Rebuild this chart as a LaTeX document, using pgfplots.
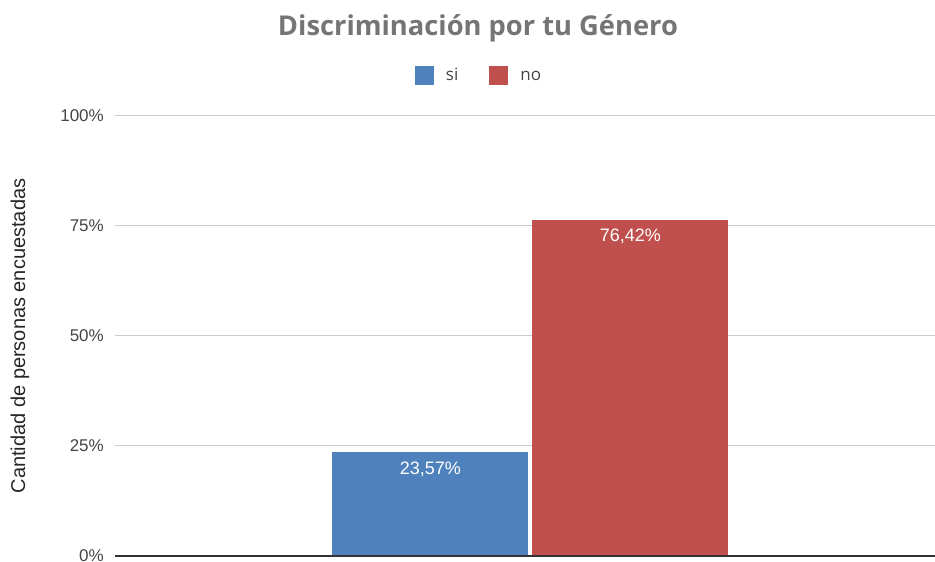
\documentclass[border=0pt]{standalone}
\usepackage{pgfplots}
\pgfplotsset{compat=1.18}
\usepackage{fontspec}
\setmainfont{Liberation Sans}
\newfontfamily\titlefont{Open Sans}
\definecolor{siblue}{HTML}{4F81BD}
\definecolor{nored}{HTML}{C0504D}
\definecolor{titlegray}{HTML}{757575}
\definecolor{gridgray}{HTML}{CCCCCC}
\definecolor{ticktext}{HTML}{444444}
\begin{document}
\begin{tikzpicture}
\useasboundingbox (0pt,0pt) rectangle (935pt,562pt);
\begin{axis}[
  at={(115pt,6pt)}, anchor=south west, scale only axis,
  width=820pt, height=440pt,
  xmin=-415.3, xmax=404.7, ymin=0, ymax=100,
  ytick={0,25,50,75,100},
  yticklabels={0\%,25\%,50\%,75\%,100\%},
  yticklabel style={font=\fontsize{17}{20}\selectfont, text=ticktext, inner sep=0pt, xshift=-11pt},
  xtick=\empty,
  ymajorgrids, grid style={gridgray, line width=1pt},
  major tick length=0pt,
  axis line style={draw=none},
  clip=false,
  legend image code/.code={\draw[#1, draw=none] (0pt,-9.5pt) rectangle (19pt,9.5pt);},
  legend style={at={(0.4427,1.0909)}, anchor=center, draw=none, fill=none,
    font=\titlefont\fontsize{17}{20}\selectfont, text=ticktext,
    nodes={inner sep=0pt, text height=9pt, text depth=0pt},
    /tikz/every odd column/.append style={column sep=12pt},
    /tikz/every even column/.append style={column sep=31pt}},
  legend columns=2,
  nodes near coords style={font=\fontsize{18}{21}\selectfont, text=white, anchor=center, yshift=-17pt},
]
\addplot[ybar, bar width=196, bar shift=0, fill=siblue, draw=none,
  nodes near coords={23,57\%}] coordinates {(-100,23.57)};
\addlegendentry{si}
\addplot[ybar, bar width=196, bar shift=0, fill=nored, draw=none,
  nodes near coords={76,42\%}] coordinates {(100,76.42)};
\addlegendentry{no}
\end{axis}
\draw[black!80, line width=1.3pt] (115pt,6pt) -- (935pt,6pt);
\node[font=\titlefont\bfseries\fontsize{27.3}{32}\selectfont, text=titlegray] at (478pt,534pt) {Discriminación por tu Género};
\node[rotate=90, font=\fontsize{20}{24}\selectfont, text=black!85] at (20pt,226pt) {Cantidad de personas encuestadas};
\end{tikzpicture}
\end{document}
